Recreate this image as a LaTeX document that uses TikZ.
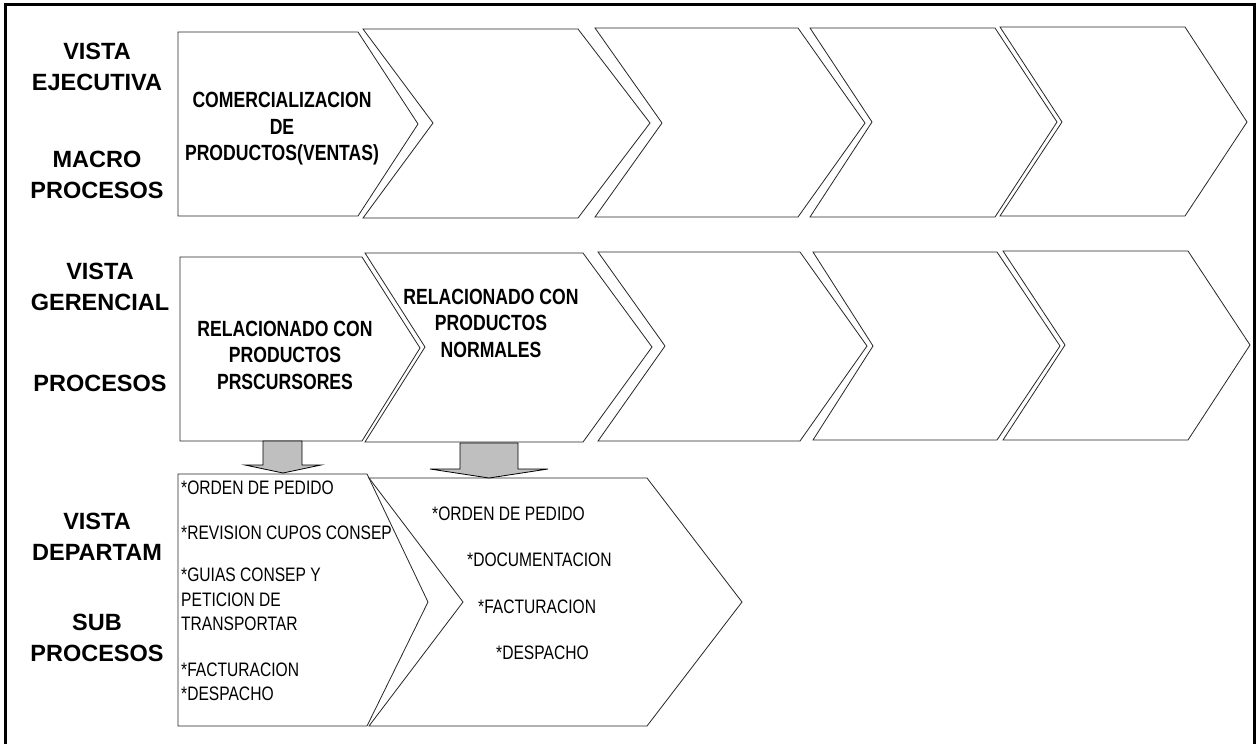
\documentclass[tikz,border=0pt]{standalone}
\usepackage{fontspec}
\setmainfont{Liberation Sans}
\newfontfamily\narrowfont[FakeStretch=0.8]{Liberation Sans}
\begin{document}
\begin{tikzpicture}[x=1pt,y=-1pt,
  stage/.style={draw=black!85, line width=0.8pt, fill=white, line join=miter},
  blockarrow/.style={draw=black, line width=0.8pt, fill=black!25},
  level/.style={font=\fontsize{23.5}{30.5}\selectfont\bfseries, align=center, inner sep=0pt},
  title/.style={font=\narrowfont\fontsize{22}{26.5}\selectfont\bfseries, align=center, inner sep=0pt},
  item/.style={font=\narrowfont\fontsize{19.5}{24}\selectfont, anchor=west, inner sep=0pt},
  frame/.style={line width=3pt}]
\useasboundingbox (0,0) rectangle (1258,744);

% outer frame (open at the bottom)
\draw[frame] (5,744) -- (5,4) -- (1254,4) -- (1254,744);

% ---- executive view: macro processes ----
\draw[stage] (178,32) -- (358,32) -- (418,124) -- (358,216) -- (178,216) -- cycle;
\draw[stage] (363,29) -- (578,29) -- (650,123) -- (578,218) -- (363,218) -- (433,123) -- cycle;
\draw[stage] (595,28) -- (798,28) -- (865,123) -- (798,217) -- (595,217) -- (662,123) -- cycle;
\draw[stage] (810,28) -- (995,28) -- (1057,122) -- (995,217) -- (810,217) -- (872,122) -- cycle;
\draw[stage] (1000,27) -- (1185,27) -- (1247,122) -- (1185,216) -- (1000,216) -- (1062,122) -- cycle;

% ---- management view: processes ----
\draw[stage] (180,257) -- (362,257) -- (420,348) -- (362,441) -- (180,441) -- cycle;
\draw[stage] (365,253) -- (583,253) -- (652,347) -- (583,442) -- (365,442) -- (425,347) -- cycle;
\draw[stage] (598,252) -- (800,252) -- (867,346) -- (800,441) -- (598,441) -- (665,346) -- cycle;
\draw[stage] (813,252) -- (997,252) -- (1060,346) -- (997,440) -- (813,440) -- (873,346) -- cycle;
\draw[stage] (1003,251) -- (1188,251) -- (1250,345) -- (1188,440) -- (1003,440) -- (1065,345) -- cycle;

% ---- department view: sub processes ----
\draw[stage] (178,474) -- (367,474) -- (428,602) -- (367,726) -- (178,726) -- cycle;
\draw[stage] (369,478) -- (647,478) -- (742,602) -- (647,726) -- (369,726) -- (463,602) -- cycle;

% block arrows between the levels
\draw[blockarrow] (263,441) -- (302,441) -- (302,465) -- (321,465) -- (283,473) -- (245,465) -- (263,465) -- cycle;
\draw[blockarrow] (460,443) -- (518,443) -- (518,469) -- (548,469) -- (489,478) -- (430,469) -- (460,469) -- cycle;

% level captions
\node[level] (vejec) at (97,67) {VISTA\\EJECUTIVA};
\node[level] (macro) at (97,175) {MACRO\\PROCESOS};
\node[level] (vgeren) at (100,287) {VISTA\\GERENCIAL};
\node[level] (proc) at (100,383) {PROCESOS};
\node[level] (vdep) at (97,537) {VISTA\\DEPARTAM};
\node[level] (sub) at (97,638) {SUB\\PROCESOS};

% stage titles
\node[title] (comerc) at (282,129) {COMERCIALIZACION\\DE\\PRODUCTOS(VENTAS)};
\node[title] (precurs) at (285,355) {RELACIONADO CON\\PRODUCTOS\\PRSCURSORES};
\node[title] (normal) at (491,323) {RELACIONADO CON\\PRODUCTOS\\NORMALES};

% sub process lists
\node[item] (a1) at (181,488) {*ORDEN DE PEDIDO};
\node[item] (a2) at (181,533) {*REVISION CUPOS CONSEP};
\node[item] (a3) at (181,575) {*GUIAS CONSEP Y};
\node[item] (a4) at (181,600) {PETICION DE};
\node[item] (a5) at (181,624) {TRANSPORTAR};
\node[item] (a6) at (181,670) {*FACTURACION};
\node[item] (a7) at (181,694) {*DESPACHO};

\node[item] (b1) at (432,514) {*ORDEN DE PEDIDO};
\node[item] (b2) at (467,560) {*DOCUMENTACION};
\node[item] (b3) at (478,607) {*FACTURACION};
\node[item] (b4) at (496,653) {*DESPACHO};
\end{tikzpicture}
\end{document}
